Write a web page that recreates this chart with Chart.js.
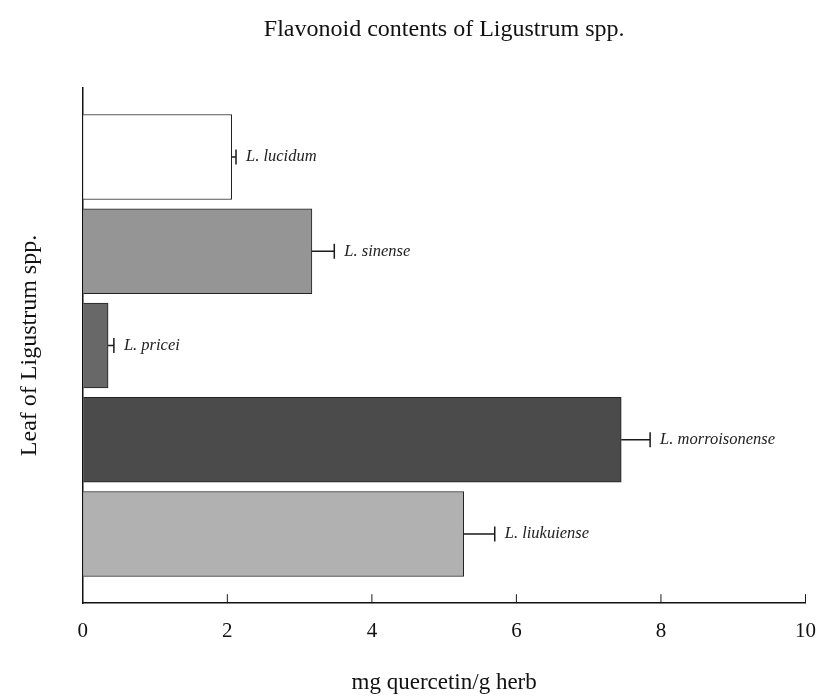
<!DOCTYPE html>
<html>
<head>
<meta charset="utf-8">
<script src="https://cdn.jsdelivr.net/npm/chart.js@4"></script>
<style>
  html, body { margin: 0; padding: 0; background: #fff; }
</style>
</head>
<body>
<canvas id="chart" width="818" height="697"></canvas>
<script>
var species = ['L. lucidum', 'L. sinense', 'L. pricei', 'L. morroisonense', 'L. liukuiense'];
var flavonoid = [2.06, 3.17, 0.35, 7.45, 5.27];
var errors = [0.06, 0.31, 0.08, 0.40, 0.43];
var barColors = ['#ffffff', '#959595', '#686868', '#4b4b4b', '#b1b1b1'];
var xTicks = [0, 2, 4, 6, 8, 10];

var serif = '"Liberation Serif", "DejaVu Serif", serif';

// error bars, italic species labels and the small inward ticks on the x axis
var extras = {
  id: 'extras',
  afterDatasetsDraw: function(chart) {
    var ctx = chart.ctx;
    var xs = chart.scales.x, ys = chart.scales.y;
    ctx.save();
    ctx.strokeStyle = '#1a1a1a';
    ctx.lineWidth = 1.5;
    ctx.fillStyle = '#222';
    ctx.font = 'italic 16.5px ' + serif;
    ctx.textBaseline = 'middle';
    for (var i = 0; i < flavonoid.length; i++) {
      var x0 = xs.getPixelForValue(flavonoid[i]);
      var x1 = xs.getPixelForValue(flavonoid[i] + errors[i]);
      var y = ys.getPixelForValue(i);
      ctx.beginPath();
      ctx.moveTo(x0, y);
      ctx.lineTo(x1, y);
      ctx.moveTo(x1, y - 7.5);
      ctx.lineTo(x1, y + 7.5);
      ctx.stroke();
      ctx.fillText(species[i], x1 + 10, y);
    }
    ctx.lineWidth = 1;
    xTicks.forEach(function(t) {
      if (t === 0) return;
      var x = xs.getPixelForValue(t);
      ctx.beginPath();
      ctx.moveTo(x, xs.top);
      ctx.lineTo(x, xs.top - 9);
      ctx.stroke();
    });
    ctx.restore();
  }
};

var canvas = document.getElementById('chart');
var context = canvas.getContext('2d');

var chart = new Chart(context, {
  type: 'bar',
  data: {
    datasets: [{
      label: 'Flavonoid',
      data: flavonoid.map(function(v, i) { return { x: v, y: i }; }),
      backgroundColor: barColors,
      borderColor: '#222',
      borderWidth: 1,
      barThickness: 85
    }]
  },
  options: {
    indexAxis: 'y',
    responsive: false,
    animation: false,
    layout: { padding: { left: 15.5, right: 2, bottom: 0 } },
    plugins: {
      legend: { display: false },
      tooltip: { enabled: false },
      title: {
        display: true,
        fullSize: false,
        text: 'Flavonoid contents of Ligustrum spp.',
        color: '#111',
        font: { family: serif, size: 24, weight: 'normal' },
        padding: { top: 15, bottom: 44 }
      }
    },
    scales: {
      y: {
        type: 'linear',
        offset: false,
        reverse: true,
        min: -0.734,
        max: 4.734,
        grid: { display: false, drawTicks: false },
        border: { display: true, color: '#111', width: 1.5 },
        ticks: { display: false },
        title: {
          display: true,
          text: 'Leaf of Ligustrum spp.',
          color: '#111',
          font: { family: serif, size: 24 },
          padding: { top: 0, bottom: 38.5 }
        }
      },
      x: {
        min: 0,
        max: 10,
        afterBuildTicks: function(scale) {
          scale.ticks = xTicks.map(function(v) { return { value: v }; });
        },
        // outward ticks are invisible; they only push the labels down
        grid: { display: true, drawOnChartArea: false, drawTicks: true, tickLength: 13.5, tickColor: 'rgba(0,0,0,0)' },
        border: { display: true, color: '#111', width: 1.5 },
        ticks: {
          color: '#111',
          padding: 2,
          font: { family: serif, size: 21 }
        },
        title: {
          display: true,
          text: 'mg quercetin/g herb',
          color: '#111',
          font: { family: serif, size: 23 },
          padding: { top: 23.5, bottom: 0 }
        }
      }
    }
  },
  plugins: [extras]
});
</script>
</body>
</html>
